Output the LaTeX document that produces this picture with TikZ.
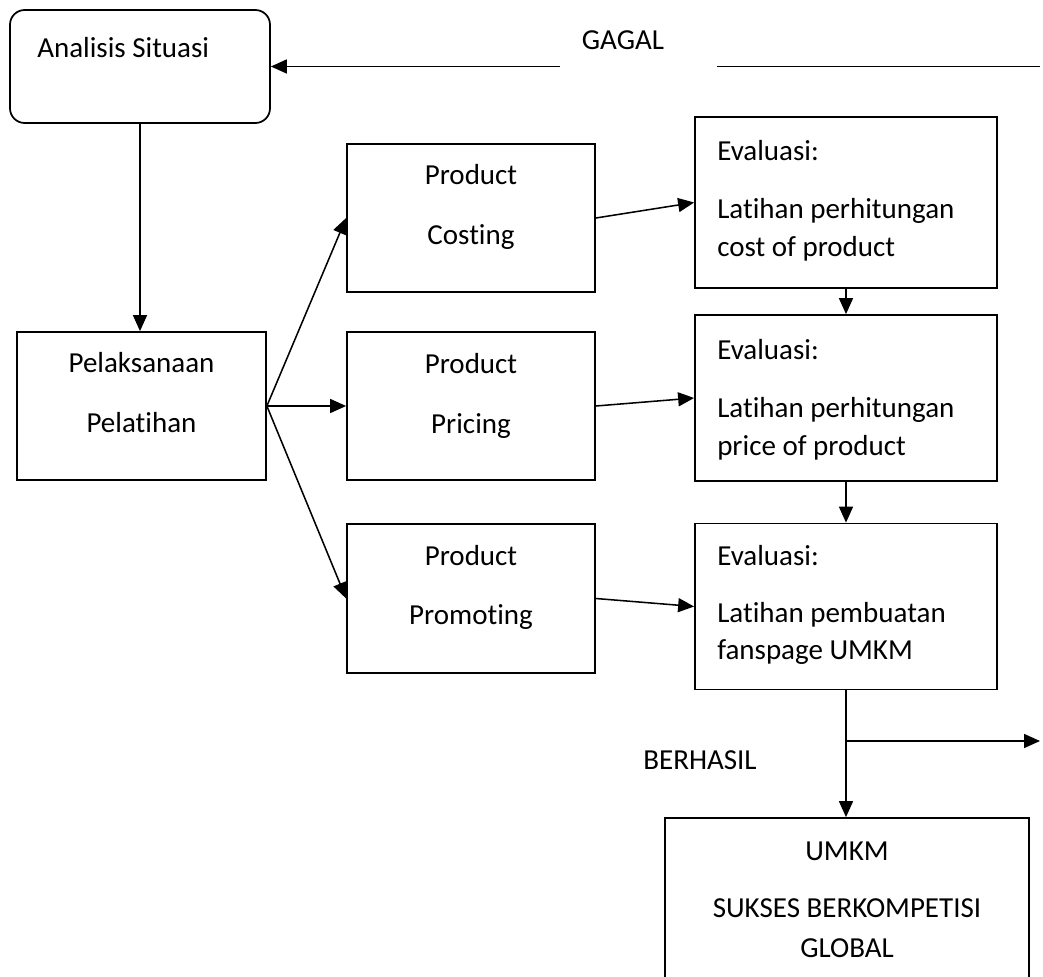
\documentclass[tikz,border=0pt]{standalone}
\usepackage{fontspec}
\setmainfont[Ligatures=NoCommon]{Carlito}
\usetikzlibrary{arrows.meta}
\tikzset{box/.style={draw, rectangle, line width=1.3pt, inner sep=0pt},
	smallbox/.style={box, minimum width=186pt, minimum height=111.5pt},
	evalbox/.style={box, minimum width=226.5pt},
	ctxt/.style={inner sep=0pt, anchor=base},
	ltxt/.style={inner sep=0pt, anchor=base west},
	flow/.style={-{Triangle[length=12pt,width=10.5pt]}, line width=1.15pt}}

\begin{document}
\begin{tikzpicture}[x=0.75pt, y=-0.75pt, font=\fontsize{21.75}{26}\selectfont]
		\useasboundingbox (0,0) rectangle (1043,977);
		\clip (0,0) rectangle (1043,977);
		% kotak-kotak
		\node[box, rounded corners=11pt, minimum width=195pt, minimum height=84.75pt] (analisis) at (140,66.5) {};
		\node[box, minimum width=186.75pt, minimum height=111pt] (pelaksanaan) at (141.5,406) {};
		\node[smallbox] (costing) at (471,218) {};
		\node[smallbox] (pricing) at (471,406) {};
		\node[smallbox] (promoting) at (471,598.5) {};
		\node[evalbox, minimum height=128.25pt] (eval1) at (846,202.5) {};
		\node[evalbox, minimum height=124.5pt] (eval2) at (846,398) {};
		\node[evalbox, minimum height=124.5pt] (eval3) at (846,606.5) {};
		\node[box, minimum width=273pt, minimum height=144pt] (sukses) at (847,914) {};
		
		% teks
		\node[ltxt] (tAnalisis) at (37,58) {Analisis Situasi};
		\node[ctxt] (tGagal) at (623,50) {GAGAL};
		\node[ctxt] (tPelaksanaan) at (141.5,372) {Pelaksanaan};
		\node[ctxt] (tPelatihan) at (141.5,432) {Pelatihan};
		\node[ctxt] (tProduct1) at (471,185) {Product};
		\node[ctxt] (tCosting) at (471,244) {Costing};
		\node[ctxt] (tProduct2) at (471,373) {Product};
		\node[ctxt] (tPricing) at (471,433) {Pricing};
		\node[ctxt] (tProduct3) at (471,565) {Product};
		\node[ctxt] (tPromoting) at (471,624) {Promoting};
		\node[ltxt] (tEval1) at (717,161) {Evaluasi:};
		\node[ltxt] (tLatihan1) at (717,219) {Latihan perhitungan};
		\node[ltxt] (tCost) at (717,257) {cost of product};
		\node[ltxt] (tEval2) at (717,359) {Evaluasi:};
		\node[ltxt] (tLatihan2) at (717,417) {Latihan perhitungan};
		\node[ltxt] (tPrice) at (717,455) {price of product};
		\node[ltxt] (tEval3) at (717,565) {Evaluasi:};
		\node[ltxt] (tLatihan3) at (717,622) {Latihan pembuatan};
		\node[ltxt] (tFanspage) at (717,659) {fanspage UMKM};
		\node[ctxt] (tBerhasil) at (700,769) {BERHASIL};
		\node[ctxt] (tUmkm) at (847,860) {UMKM};
		\node[ctxt] (tSukses) at (847,917) {SUKSES BERKOMPETISI};
		\node[ctxt] (tGlobal) at (847,957) {GLOBAL};
		
		% panah
		\coordinate (gagalA) at (1040,66.5);
		\coordinate (gagalB) at (717,66.5);
		\coordinate (gagalC) at (560,66.5);
		\coordinate (cabang) at (846,741);
		\coordinate (keluar) at (1040,741);
		\draw[line width=1.15pt] (gagalA) -- (gagalB);
		\draw[flow] (gagalC) -- (analisis.east);
		\draw[flow] (analisis.south) -- (analisis.south |- pelaksanaan.north);
		\draw[flow] (pelaksanaan.east) -- (costing.west);
		\draw[flow] (pelaksanaan.east) -- (pricing.west);
		\draw[flow] (pelaksanaan.east) -- (promoting.west);
		\draw[flow] (costing.east) -- (eval1.west);
		\draw[flow] (pricing.east) -- (eval2.west);
		\draw[flow] (promoting.east) -- (eval3.west);
		\draw[flow] (eval1.south) -- (eval2.north);
		\draw[flow] (eval2.south) -- (eval3.north);
		\draw[flow] (eval3.south) -- (eval3.south |- sukses.north);
		\draw[flow] (cabang) -- (keluar);
		\end{tikzpicture}
\end{document}
